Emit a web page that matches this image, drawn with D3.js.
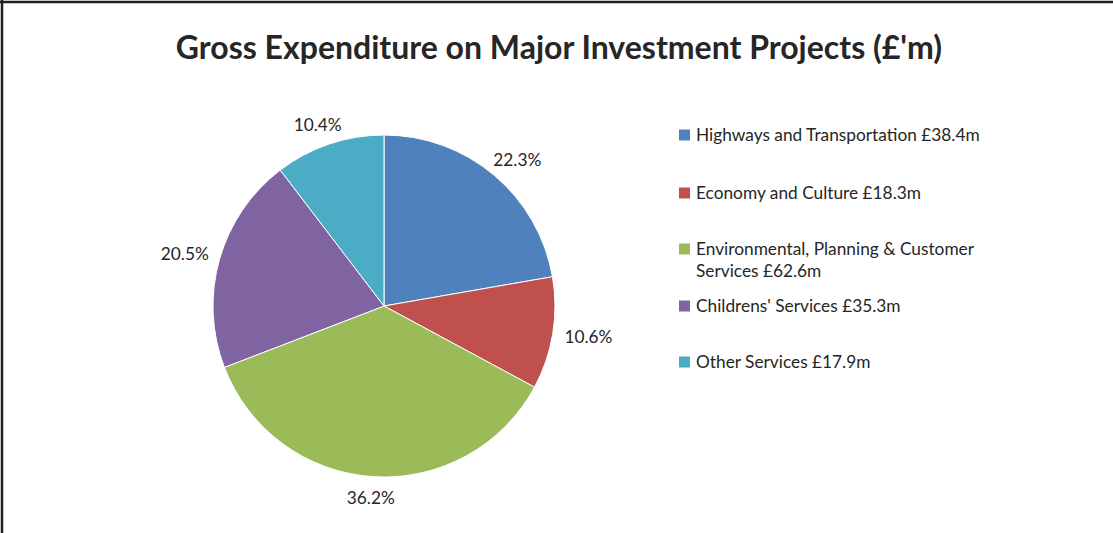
<!DOCTYPE html>
<html>
<head>
<meta charset="utf-8">
<script src="https://cdn.jsdelivr.net/npm/d3@7"></script>
<style>
  body { margin: 0; background: #fff; }
  svg { display: block; font-family: Lato, "Open Sans", sans-serif; }
</style>
</head>
<body>
<svg id="svg" width="1113" height="533"></svg>
<script>
// data
const categories = ['Highways and Transportation', 'Economy and Culture',
  'Environmental, Planning & Customer Services', "Childrens' Services", 'Other Services'];
const values = [38.4, 18.3, 62.6, 35.3, 17.9];
const pctLabels = ['22.3%', '10.6%', '36.2%', '20.5%', '10.4%'];
// legend lines (wrapped like the original)
const legendLines = [
  ['Highways and Transportation £38.4m'],
  ['Economy and Culture £18.3m'],
  ['Environmental, Planning & Customer', 'Services £62.6m'],
  ["Childrens' Services £35.3m"],
  ['Other Services £17.9m']
];
const colors = ['#4F81BD', '#C0504D', '#9BBB59', '#8064A2', '#4BACC6'];

var svg = d3.select('svg');
var W = 1113, H = 533;

// frame: only top and left edges show
svg.append('line').attr('x1', 0).attr('y1', 2).attr('x2', W).attr('y2', 2)
  .attr('stroke', '#231f20').attr('stroke-width', 2.5);
svg.append('line').attr('x1', 2).attr('y1', 0).attr('x2', 2).attr('y2', H)
  .attr('stroke', '#231f20').attr('stroke-width', 2.5);

svg.append('text')
  .attr('x', 559).attr('y', 59)
  .attr('text-anchor', 'middle')
  .attr('font-weight', 'bold')
  .attr('font-size', 32)
  .attr('fill', '#262626')
  .text("Gross Expenditure on Major Investment Projects (£'m)");

var cx = 384, cy = 306, radius = 171;
var fs = 17.3;

var pie = d3.pie().sort(null).value(d => d);
var arcs = pie(values);
var arc = d3.arc().innerRadius(0).outerRadius(radius);

var chart = svg.append('g')
  .attr('transform', `translate(${cx}, ${cy})`);

chart.selectAll('path.slice')
  .data(arcs)
  .enter()
  .append('path')
  .attr('class', 'slice')
  .attr('d', arc)
  .attr('fill', (d, i) => colors[i])
  .attr('stroke', '#fff')
  .attr('stroke-width', 1);

// outside labels: box pushed out from the rim along the mid angle
var gap = 12;
var labels = chart.selectAll('text.pct')
  .data(arcs)
  .enter()
  .append('text')
  .attr('class', 'pct')
  .attr('text-anchor', 'middle')
  .attr('dominant-baseline', 'central')
  .attr('font-size', fs)
  .attr('fill', '#262626')
  .text((d, i) => pctLabels[i]);

labels.each(function (d) {
  var bb = this.getBBox();
  var a = (d.startAngle + d.endAngle) / 2;
  var s = Math.sin(a), c = Math.cos(a);
  var x = (radius + gap) * s + bb.width / 2 * s;
  var y = -(radius + gap) * c - (fs / 2) * c;
  d3.select(this).attr('transform', `translate(${x}, ${y})`);
});

// legend
var legendY = [135, 193, 249, 306, 362];
var legend = svg.append('g');
var items = legend.selectAll('g')
  .data(categories)
  .enter()
  .append('g')
  .attr('transform', (d, i) => `translate(679, ${legendY[i]})`);

items.append('rect')
  .attr('x', 0).attr('y', -5.5)
  .attr('width', 11).attr('height', 11)
  .attr('fill', (d, i) => colors[i]);

items.append('text')
  .attr('x', 17).attr('y', 0)
  .attr('font-size', fs)
  .attr('fill', '#262626')
  .selectAll('tspan')
  .data((d, i) => legendLines[i])
  .enter()
  .append('tspan')
  .attr('x', 17)
  .attr('dy', (d, j) => j === 0 ? '0.35em' : 22)
  .text(d => d);
</script>
</body>
</html>
